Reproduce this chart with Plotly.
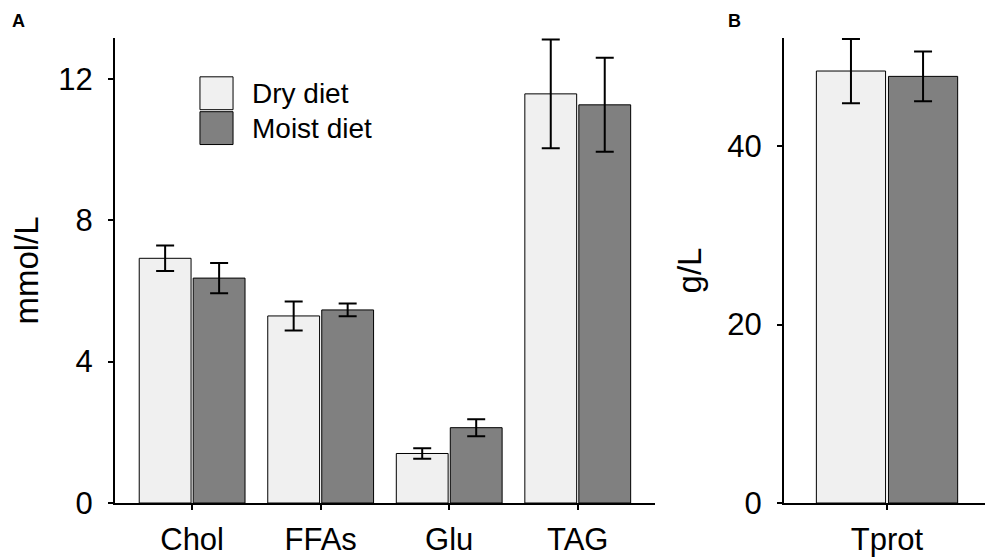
import plotly.graph_objects as go

# panel A: plasma metabolites (mmol/L)
metabolites = ["Chol", "FFAs", "Glu", "TAG"]
dry_mean = [6.92, 5.29, 1.40, 11.57]
dry_err = [0.36, 0.41, 0.15, 1.54]
moist_mean = [6.36, 5.46, 2.13, 11.26]
moist_err = [0.43, 0.18, 0.24, 1.33]

# panel B: total protein (g/L)
proteins = ["Tprot"]
dry_prot = [48.4]
dry_prot_err = [3.6]
moist_prot = [47.8]
moist_prot_err = [2.8]

groups = ["Dry diet", "Moist diet"]
colors = ["#f0f0f0", "#808080"]

FONT = "Arial, Liberation Sans, sans-serif"

fig = go.Figure()


def add_bars(x, y, err, color, xa, ya):
    fig.add_trace(go.Bar(
        x=x, y=y,
        marker=dict(color=color, line=dict(color="black", width=1)),
        error_y=dict(type="data", array=err, color="black", thickness=2, width=9),
        xaxis=xa, yaxis=ya,
        showlegend=False,
    ))


add_bars(metabolites, dry_mean, dry_err, colors[0], "x", "y")
add_bars(metabolites, moist_mean, moist_err, colors[1], "x", "y")
add_bars(proteins, dry_prot, dry_prot_err, colors[0], "x2", "y2")
add_bars(proteins, moist_prot, moist_prot_err, colors[1], "x2", "y2")

axis_common = dict(
    showline=True, linecolor="black", linewidth=2,
    ticks="outside", ticklen=5, tickwidth=2, tickcolor="black",
    showgrid=False, zeroline=False,
    tickfont=dict(family=FONT, size=31, color="black"),
)
title_font = dict(family=FONT, size=33, color="black")

# page body adds ~8px offset, so figure is a bit smaller than the window
fig.update_layout(
    width=985, height=552,
    margin=dict(l=107, r=3, t=30, b=55),
    plot_bgcolor="white", paper_bgcolor="white",
    barmode="group", bargap=0.16, bargroupgap=0.04,
    font=dict(family=FONT, color="black"),
    xaxis=dict(domain=[0, 0.617], range=[-0.6, 3.6], ticklabelstandoff=3, **axis_common),
    yaxis=dict(range=[0, 13.15], tickvals=[0, 4, 8, 12], ticklabelstandoff=9,
               title=dict(text="mmol/L", font=title_font, standoff=16),
               **axis_common),
    xaxis2=dict(domain=[0.7646, 1], range=[-0.6, 0.6], anchor="y2", ticklabelstandoff=3,
                **axis_common),
    yaxis2=dict(range=[0, 52.1], tickvals=[0, 20, 40], anchor="x2", ticklabelstandoff=9,
                title=dict(text="g/L", font=title_font, standoff=16),
                **axis_common),
)

# legend drawn as big swatches like the original
box_x = [0.0971, 0.1349]
box_y = [(0.9165, 0.8458), (0.8415, 0.7709)]
for name, color, (y0, y1) in zip(groups, colors, box_y):
    fig.add_shape(type="rect", xref="paper", yref="paper",
                  x0=box_x[0], x1=box_x[1], y0=y1, y1=y0,
                  fillcolor=color, line=dict(color="black", width=1))
    fig.add_annotation(text=name, xref="paper", yref="paper",
                       x=0.1543, y=(y0 + y1) / 2, xanchor="left", yanchor="middle",
                       showarrow=False, font=dict(family=FONT, size=28, color="black"))

# panel letters, pinned just under the top edge of the figure
for letter, xp in [("A", -0.1200), ("B", 0.6983)]:
    fig.add_annotation(text="<b>" + letter + "</b>", xref="paper", yref="paper",
                       x=xp, y=1.062, xanchor="left", yanchor="top",
                       showarrow=False, font=dict(family=FONT, size=18, color="black"))

fig.write_html("out.html")
